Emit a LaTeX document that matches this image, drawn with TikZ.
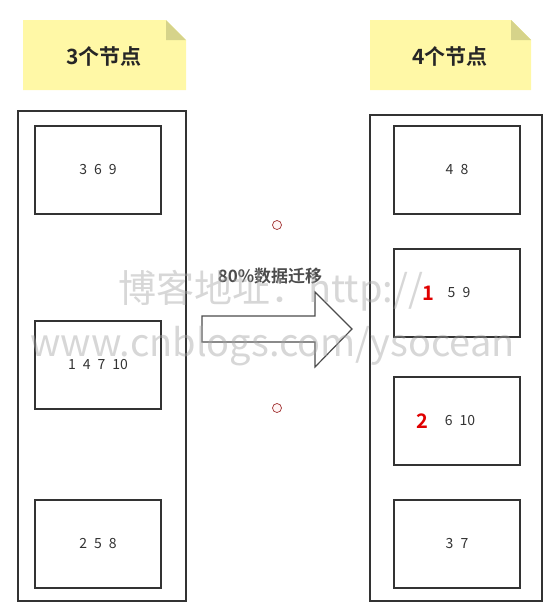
\documentclass[tikz,border=0pt]{standalone}
\usepackage{fontspec}
\setmainfont{Noto Sans CJK SC}
\newfontfamily\cjkb{Noto Sans CJK SC Bold}
\definecolor{noteY}{HTML}{FFF8A6}
\definecolor{noteF}{HTML}{D6D38A}
\definecolor{boxL}{HTML}{333333}
\definecolor{numC}{HTML}{333333}
\definecolor{markR}{HTML}{E00000}
\definecolor{dotR}{HTML}{A03030}
\newcommand{\numfont}{\fontsize{14}{16}\selectfont\spaceskip=0.5em\relax}
\tikzset{
  outerbox/.style={draw=boxL, line width=1.6pt, inner sep=0pt},
  cellbox/.style={draw=boxL, line width=1.4pt, minimum width=126pt, minimum height=88pt, inner sep=0pt, font=\numfont, text=numC},
  numtext/.style={font=\numfont, text=numC, inner sep=0pt},
  notetext/.style={font=\cjkb\fontsize{21}{23}\selectfont, text=black!85},
  redmark/.style={font=\cjkb\fontsize{20}{22}\selectfont, text=markR, inner sep=0pt},
  smalldot/.style={circle, draw=dotR, fill=red!4, line width=0.7pt, minimum size=9pt, inner sep=0pt},
  wmark/.style={font=\fontsize{38}{42}\selectfont, text=gray!70, opacity=0.45, anchor=west, inner sep=0pt}
}
\begin{document}
\begin{tikzpicture}[x=1pt,y=-1pt]
\useasboundingbox (0,0) rectangle (559,611);
% notes
\fill[noteY] (23,20) -- (166,20) -- (186,40) -- (186,90) -- (23,90) -- cycle;
\fill[noteF] (166,20) -- (186,40) -- (166,40) -- cycle;
\node[notetext] (n3) at (104,56) {3个节点};
\fill[noteY] (370,20) -- (511,20) -- (531,40) -- (531,90) -- (370,90) -- cycle;
\fill[noteF] (511,20) -- (531,40) -- (511,40) -- cycle;
\node[notetext] (n4) at (450,56) {4个节点};
% outer boxes
\node[outerbox, minimum width=168pt, minimum height=490pt] (L) at (102,356) {};
\node[outerbox, minimum width=172pt, minimum height=486pt] (R) at (456,358) {};
% left cells
\node[cellbox] (l1) at (98,170) {3 6 9};
\node[cellbox] (l2) at (98,365) {1 4 7 10};
\node[cellbox] (l3) at (98,544) {2 5 8};
% right cells
\node[cellbox] (r1) at (457,170) {4 8};
\node[cellbox] (r2) at (457,293) {};
\node[cellbox] (r3) at (457,421) {};
\node[cellbox] (r4) at (457,544) {3 7};
\node[numtext] (t59) at (459,293) {5 9};
\node[redmark] (m1) at (428,293) {1};
\node[numtext] (t610) at (460,421) {6 10};
\node[redmark] (m2) at (422,421) {2};
% dots
\node[smalldot] (d1) at (277,225) {};
\node[smalldot] (d2) at (277,408) {};
% arrow
\draw[draw=black!70, fill=white, line width=1.2pt, line join=miter]
  (202,316) -- (315,316) -- (315,292) -- (352,329) -- (315,367) -- (315,342) -- (202,342) -- cycle;
\node[font=\cjkb\fontsize{17}{19}\selectfont, text=black!70] (lab) at (270,276) {80\%数据迁移};
% watermark
\node[wmark] (w1) at (118,291) {博客地址：http://};
\node[wmark] (w2) at (30,346) {www.cnblogs.com/ysocean};
\end{tikzpicture}
\end{document}
